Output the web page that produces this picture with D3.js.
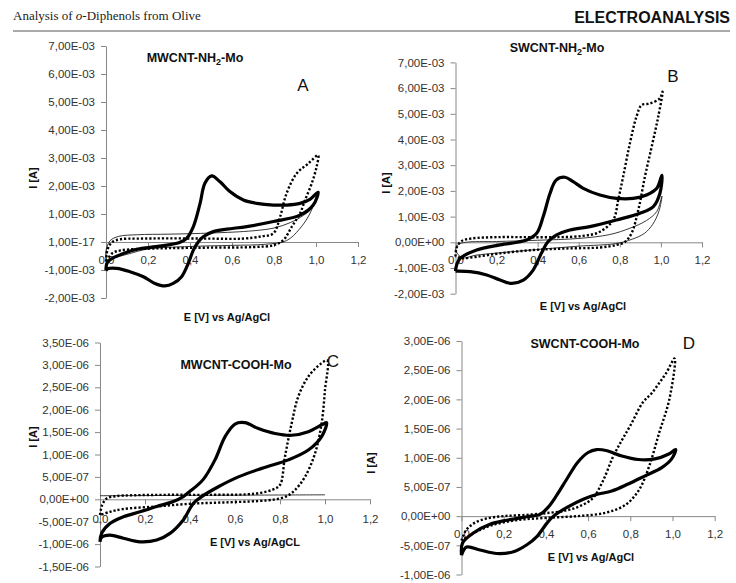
<!DOCTYPE html>
<html>
<head>
<meta charset="utf-8">
<script src="https://cdn.jsdelivr.net/npm/d3@7"></script>
<style>
  body { margin: 0; background: #fff; }
  svg text { font-family: "Liberation Sans", Arial, sans-serif; }
</style>
</head>
<body>
<div id="chart"></div>
<script>
// Potential axis ticks (shared by all four panels)
const xTicks = [0, 0.2, 0.4, 0.6, 0.8, 1.0, 1.2];
const xTickLabels = ["0,0", "0,2", "0,4", "0,6", "0,8", "1,0", "1,2"];

// current ticks: panels A/B in mA, panels C/D in µA
const yTicksNH2 = [-2, -1, 0, 1, 2, 3, 4, 5, 6, 7];
const yLabelsA = ["-2,00E-03", "-1,00E-03", "1,00E-17", "1,00E-03", "2,00E-03", "3,00E-03", "4,00E-03", "5,00E-03", "6,00E-03", "7,00E-03"];
const yLabelsB = ["-2,00E-03", "-1,00E-03", "0,00E+00", "1,00E-03", "2,00E-03", "3,00E-03", "4,00E-03", "5,00E-03", "6,00E-03", "7,00E-03"];
const yTicksC = [-1.5, -1, -0.5, 0, 0.5, 1, 1.5, 2, 2.5, 3, 3.5];
const yLabelsC = ["-1,50E-06", "-1,00E-06", "-5,00E-07", "0,00E+00", "5,00E-07", "1,00E-06", "1,50E-06", "2,00E-06", "2,50E-06", "3,00E-06", "3,50E-06"];
const yTicksD = [-1, -0.5, 0, 0.5, 1, 1.5, 2, 2.5, 3];
const yLabelsD = ["-1,00E-06", "-5,00E-07", "0,00E+00", "5,00E-07", "1,00E-06", "1,50E-06", "2,00E-06", "2,50E-06", "3,00E-06"];

// voltammograms [E (V), I] -- A/B in mA, C/D in µA
const aThick = [[0.0,-1.02],[0.005,-0.75],[0.03,-0.58],[0.067,-0.46],[0.13,-0.29],[0.21,-0.19],[0.29,-0.11],[0.35,-0.02],[0.384,0.13],[0.416,0.55],[0.448,1.38],[0.471,2.1],[0.503,2.36],[0.543,2.15],[0.59,1.8],[0.654,1.5],[0.718,1.38],[0.797,1.32],[0.86,1.32],[0.924,1.38],[0.971,1.52],[1.01,1.78],
  [0.987,1.32],[0.924,0.96],[0.797,0.73],[0.67,0.55],[0.575,0.46],[0.511,0.37],[0.463,0.19],[0.44,0.01],[0.416,-0.29],[0.392,-0.76],[0.36,-1.24],[0.32,-1.48],[0.281,-1.57],[0.233,-1.48],[0.178,-1.24],[0.114,-1.06],[0.051,-0.94],[0.01,-0.95],[0.0,-1.02]];
const aDot = [[0.0,-0.7],[0.008,-0.25],[0.03,0.0],[0.07,0.1],[0.15,0.12],[0.3,0.13],[0.5,0.12],[0.65,0.12],[0.74,0.2],[0.797,0.31],[0.829,0.9],[0.86,1.74],[0.908,2.45],[0.963,2.8],[1.01,3.1],
  [1.003,2.69],[0.98,2.1],[0.948,1.5],[0.924,1.02],[0.885,0.55],[0.845,0.07],[0.8,-0.11],[0.7,-0.18],[0.5,-0.2],[0.3,-0.22],[0.15,-0.25],[0.07,-0.3],[0.03,-0.4],[0.0,-0.7]];
const aThin = [[0.0,-0.7],[0.02,-0.6],[0.07,-0.5],[0.11,-0.42],[0.2,-0.25],[0.4,-0.16],[0.6,-0.12],[0.76,-0.08],[0.86,0.05],[0.92,0.45],[0.97,1.0],[1.0,1.6],
  [0.98,1.2],[0.94,0.95],[0.88,0.7],[0.8,0.5],[0.7,0.4],[0.5,0.32],[0.3,0.28],[0.15,0.26],[0.06,0.2],[0.02,0.05],[0.0,-0.3],[0.0,-0.7]];

const bThick = [[0.0,-1.12],[0.005,-0.9],[0.022,-0.63],[0.103,-0.3],[0.217,-0.1],[0.346,0.09],[0.395,0.35],[0.427,1.0],[0.46,1.9],[0.49,2.42],[0.533,2.53],[0.573,2.36],[0.622,2.1],[0.703,1.84],[0.784,1.71],[0.865,1.71],[0.93,1.84],[0.98,2.1],[1.005,2.61],
  [0.995,1.9],[0.963,1.39],[0.898,1.13],[0.784,0.87],[0.654,0.61],[0.557,0.48],[0.49,0.28],[0.45,0.02],[0.418,-0.43],[0.378,-1.08],[0.33,-1.47],[0.274,-1.6],[0.217,-1.47],[0.152,-1.27],[0.071,-1.14],[0.006,-1.12],[0.0,-1.12]];
const bDot = [[0.0,-0.55],[0.006,-0.2],[0.03,0.05],[0.08,0.15],[0.2,0.2],[0.35,0.2],[0.5,0.2],[0.62,0.25],[0.7,0.4],[0.768,0.87],[0.792,1.65],[0.816,2.55],[0.849,3.85],[0.881,4.89],[0.906,5.34],[0.946,5.4],[0.995,5.6],[1.008,5.86],
  [0.987,4.89],[0.955,3.72],[0.922,2.55],[0.89,1.26],[0.857,0.35],[0.825,0.02],[0.784,-0.1],[0.703,-0.2],[0.54,-0.24],[0.38,-0.3],[0.217,-0.43],[0.103,-0.56],[0.03,-0.62],[0.0,-0.55]];
const bThin = [[0.0,-0.3],[0.01,-0.1],[0.05,0.0],[0.2,0.03],[0.4,0.08],[0.6,0.15],[0.75,0.3],[0.85,0.55],[0.93,0.85],[0.98,1.2],[1.005,1.8],
  [0.99,1.2],[0.96,0.7],[0.92,0.35],[0.86,0.12],[0.78,-0.05],[0.6,-0.15],[0.4,-0.28],[0.2,-0.42],[0.1,-0.5],[0.03,-0.6],[0.0,-0.3]];

const cThick = [[0.0,-0.95],[0.007,-0.76],[0.044,-0.54],[0.104,-0.39],[0.178,-0.28],[0.252,-0.16],[0.326,-0.05],[0.37,0.06],[0.4,0.18],[0.43,0.3],[0.46,0.45],[0.511,0.88],[0.556,1.4],[0.6,1.68],[0.644,1.71],[0.704,1.58],[0.778,1.47],[0.852,1.43],[0.926,1.51],[0.985,1.66],[1.007,1.71],
  [0.985,1.4],[0.926,1.1],[0.837,0.88],[0.719,0.69],[0.615,0.5],[0.526,0.28],[0.452,0.06],[0.415,-0.09],[0.37,-0.46],[0.311,-0.76],[0.252,-0.91],[0.178,-0.95],[0.104,-0.87],[0.044,-0.8],[0.007,-0.85],[0.0,-0.95]];
const cDot = [[0.0,-0.35],[0.01,-0.12],[0.03,0.02],[0.07,0.07],[0.15,0.09],[0.3,0.1],[0.5,0.1],[0.65,0.11],[0.72,0.15],[0.77,0.22],[0.8,0.32],[0.822,0.95],[0.852,1.7],[0.881,2.29],[0.926,2.74],[0.985,3.04],[1.01,3.1],
  [1.0,2.44],[0.985,1.7],[0.956,1.03],[0.911,0.5],[0.867,0.21],[0.83,0.07],[0.78,0.0],[0.7,-0.04],[0.55,-0.07],[0.4,-0.1],[0.25,-0.16],[0.1,-0.22],[0.044,-0.28],[0.0,-0.35]];
const cThin = [[0.0,0.08],[0.5,0.09],[1.0,0.1]];

const dThick = [[0.0,-0.67],[0.005,-0.46],[0.056,-0.29],[0.135,-0.14],[0.214,-0.07],[0.31,-0.01],[0.372,0.03],[0.41,0.15],[0.45,0.35],[0.5,0.64],[0.55,0.92],[0.6,1.09],[0.64,1.14],[0.69,1.12],[0.76,1.03],[0.838,0.97],[0.917,0.98],[0.98,1.06],[1.015,1.14],
  [0.996,0.98],[0.949,0.83],[0.87,0.69],[0.79,0.55],[0.712,0.43],[0.64,0.37],[0.577,0.29],[0.5,0.15],[0.436,0.0],[0.405,-0.12],[0.357,-0.35],[0.31,-0.49],[0.246,-0.61],[0.167,-0.64],[0.088,-0.58],[0.024,-0.53],[0.0,-0.67]];
const dDot = [[0.0,-0.42],[0.02,-0.25],[0.06,-0.12],[0.12,-0.04],[0.2,0.0],[0.3,0.02],[0.4,0.05],[0.5,0.1],[0.56,0.17],[0.62,0.3],[0.67,0.6],[0.716,1.0],[0.76,1.3],[0.8,1.55],[0.86,1.95],[0.9,2.1],[0.937,2.28],[0.97,2.45],[1.01,2.7],
  [0.985,2.0],[0.937,1.43],[0.89,0.86],[0.843,0.46],[0.78,0.2],[0.685,0.06],[0.55,0.0],[0.4,-0.03],[0.26,-0.07],[0.15,-0.15],[0.08,-0.25],[0.03,-0.35],[0.0,-0.42]];

// Layout of each panel (pixel boxes) + which data goes in it
const panels = [
  { title: ["MWCNT-NH", "2", "-Mo"], letter: "A", xr: [106, 358], yr: [298, 46], yd: [-2, 7], yt: yTicksNH2, yl: yLabelsA,
    titlePos: [195, 62], letterPos: [303, 91], yTitle: [37, 178], xTitle: ["E [V] vs Ag/AgCl", 227, 321],
    thin: aThin, dot: aDot, thick: aThick },
  { title: ["SWCNT-NH", "2", "-Mo"], letter: "B", xr: [455.5, 702], yr: [293.7, 62.4], yd: [-2, 7], yt: yTicksNH2, yl: yLabelsB,
    titlePos: [557, 52], letterPos: [673, 82], yTitle: [390, 183], xTitle: ["E [V] vs Ag/AgCl", 583, 310],
    thin: bThin, dot: bDot, thick: bThick },
  { title: ["MWCNT-COOH-Mo"], letter: "C", xr: [100, 370], yr: [566.5, 342.5], yd: [-1.5, 3.5], yt: yTicksC, yl: yLabelsC,
    titlePos: [236, 369], letterPos: [333, 367], yTitle: [37, 437], xTitle: ["E [V] vs Ag/AgCL", 255, 546],
    thin: cThin, dot: cDot, thick: cThick },
  { title: ["SWCNT-COOH-Mo"], letter: "D", xr: [461.5, 714.7], yr: [574.5, 341], yd: [-1, 3], yt: yTicksD, yl: yLabelsD,
    titlePos: [585, 348], letterPos: [689, 349], yTitle: [375, 463], xTitle: ["E [V] vs Ag/AgCl", 591, 561],
    thin: null, dot: dDot, thick: dThick }
];

const svg = d3.select("#chart").append("svg")
  .attr("width", 736)
  .attr("height", 583);

// Journal page header
svg.append("text")
  .attr("x", 13).attr("y", 20)
  .style("font-family", "'Liberation Serif', 'Times New Roman', serif")
  .style("font-size", "13px")
  .attr("fill", "#222")
  .call(t => {
    t.append("tspan").text("Analysis of ");
    t.append("tspan").style("font-style", "italic").text("o");
    t.append("tspan").text("-Diphenols from Olive");
  });
svg.append("text")
  .attr("x", 730).attr("y", 23)
  .attr("text-anchor", "end")
  .style("font-size", "16px").style("font-weight", "bold")
  .attr("fill", "#111")
  .text("ELECTROANALYSIS");
svg.append("line")
  .attr("x1", 13).attr("x2", 730).attr("y1", 31).attr("y2", 31)
  .attr("stroke", "#555").attr("stroke-width", 1.2);

panels.forEach(p => {
  const x = d3.scaleLinear().domain([0, 1.2]).range(p.xr);
  const y = d3.scaleLinear().domain(p.yd).range(p.yr);
  const g = svg.append("g");

  // Y axis
  g.append("g")
    .attr("transform", `translate(${p.xr[0]},0)`)
    .call(d3.axisLeft(y).tickValues(p.yt).tickFormat((d, i) => p.yl[i]).tickSize(5).tickPadding(6).tickSizeOuter(0))
    .call(a => a.selectAll("text").style("font-size", "11.5px").attr("fill", "#333"));

  // X axis through zero
  g.append("g")
    .attr("transform", `translate(0,${y(0)})`)
    .call(d3.axisBottom(x).tickValues(xTicks).tickFormat((d, i) => xTickLabels[i]).tickSize(5).tickPadding(p.letter === "C" ? 11 : 9).tickSizeOuter(0))
    .call(a => a.selectAll("text").style("font-size", "11.5px").attr("fill", "#333"));

  g.selectAll(".domain, .tick line").attr("stroke", "#888");

  const line = d3.line()
    .x(d => x(d[0]))
    .y(d => y(d[1]))
    .curve(d3.curveCatmullRom.alpha(0.5));

  if (p.thin) {
    g.append("path").datum(p.thin)
      .attr("d", line).attr("fill", "none")
      .attr("stroke", "#222").attr("stroke-width", 0.9);
  }
  g.append("path").datum(p.dot)
    .attr("d", line).attr("fill", "none")
    .attr("stroke", "#000").attr("stroke-width", 2.4)
    .attr("stroke-dasharray", "2.2 2");
  g.append("path").datum(p.thick)
    .attr("d", line).attr("fill", "none")
    .attr("stroke", "#000").attr("stroke-width", 3.2)
    .attr("stroke-linejoin", "round");

  // Titles
  const t = g.append("text")
    .attr("x", p.titlePos[0]).attr("y", p.titlePos[1])
    .attr("text-anchor", "middle")
    .style("font-size", "12.5px").style("font-weight", "bold")
    .attr("fill", "#111");
  if (p.title.length === 3) {
    t.append("tspan").text(p.title[0]);
    t.append("tspan").attr("dy", 3).style("font-size", "9px").text(p.title[1]);
    t.append("tspan").attr("dy", -3).text(p.title[2]);
  } else {
    t.text(p.title[0]);
  }

  g.append("text")
    .attr("x", p.letterPos[0]).attr("y", p.letterPos[1])
    .attr("text-anchor", "middle")
    .style("font-size", "17px")
    .attr("fill", "#111")
    .text(p.letter);

  g.append("text")
    .attr("transform", `translate(${p.yTitle[0]},${p.yTitle[1]}) rotate(-90)`)
    .attr("text-anchor", "middle")
    .style("font-size", "11px").style("font-weight", "bold")
    .attr("fill", "#111")
    .text("I [A]");

  g.append("text")
    .attr("x", p.xTitle[1]).attr("y", p.xTitle[2])
    .attr("text-anchor", "middle")
    .style("font-size", "11px").style("font-weight", "bold")
    .attr("fill", "#111")
    .text(p.xTitle[0]);
});
</script>
</body>
</html>
